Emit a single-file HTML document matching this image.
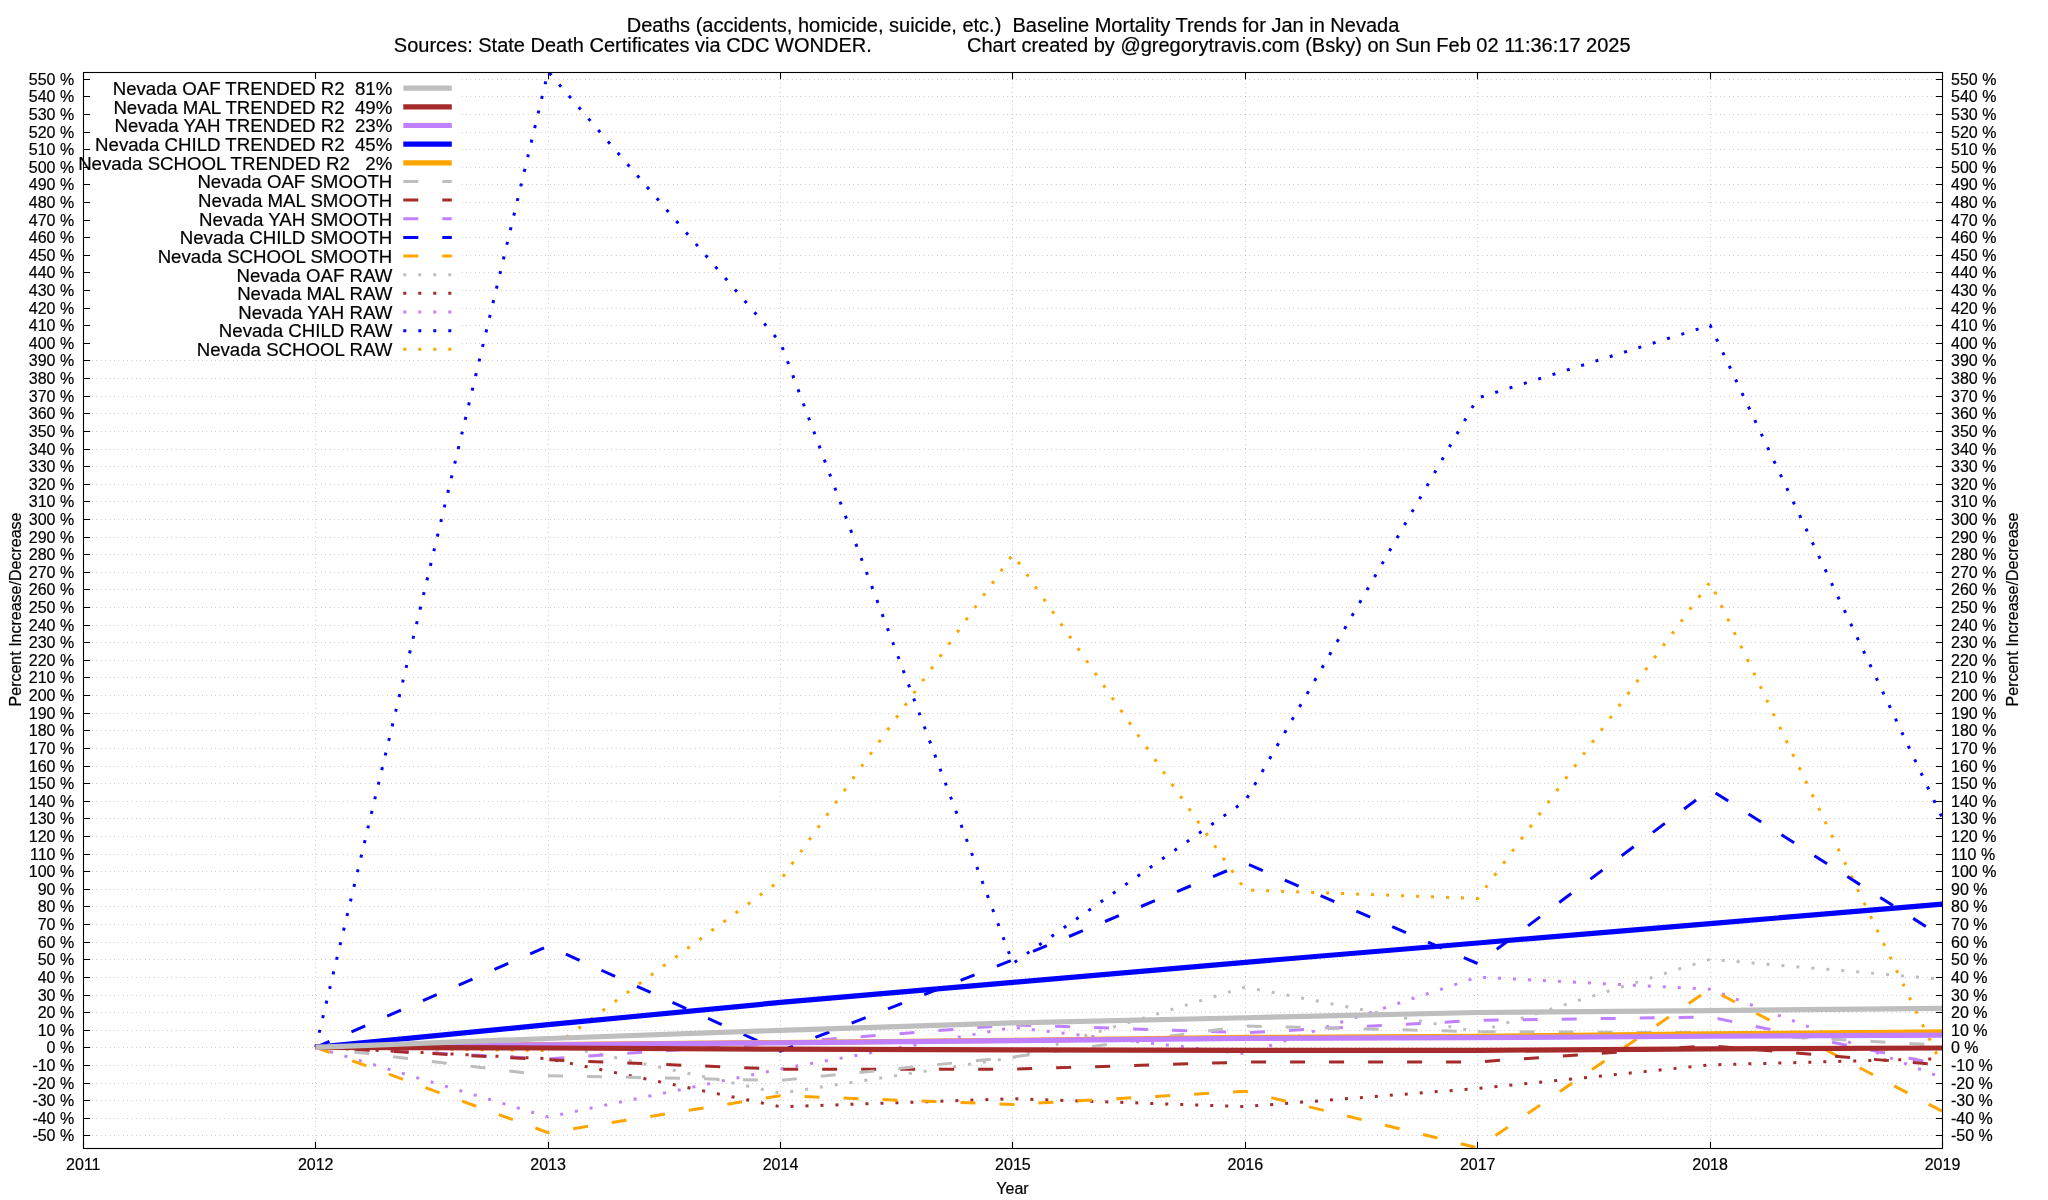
<!DOCTYPE html>
<html lang="en"><head><meta charset="utf-8"><title>Baseline Mortality Trends for Jan in Nevada</title>
<style>html,body{margin:0;padding:0;background:#fff;overflow:hidden}svg{display:block;will-change:transform}text{font-family:'Liberation Sans',Arial,Helvetica,sans-serif;fill:#000;stroke:#000;stroke-width:0.2px}</style></head><body>
<svg width="2048" height="1200" viewBox="0 0 2048 1200">
<rect width="2048" height="1200" fill="#fff"/>
<defs><clipPath id="pc"><rect x="83.5" y="72.5" width="1859.0" height="1076.0"/></clipPath></defs>
<path d="M83.5 1135.5H1942.5M83.5 1118.5H1942.5M83.5 1100.5H1942.5M83.5 1083.5H1942.5M83.5 1065.5H1942.5M83.5 1047.5H1942.5M83.5 1030.5H1942.5M83.5 1012.5H1942.5M83.5 995.5H1942.5M83.5 977.5H1942.5M83.5 959.5H1942.5M83.5 942.5H1942.5M83.5 924.5H1942.5M83.5 906.5H1942.5M83.5 889.5H1942.5M83.5 871.5H1942.5M83.5 854.5H1942.5M83.5 836.5H1942.5M83.5 818.5H1942.5M83.5 801.5H1942.5M83.5 783.5H1942.5M83.5 766.5H1942.5M83.5 748.5H1942.5M83.5 730.5H1942.5M83.5 713.5H1942.5M83.5 695.5H1942.5M83.5 677.5H1942.5M83.5 660.5H1942.5M83.5 642.5H1942.5M83.5 625.5H1942.5M83.5 607.5H1942.5M83.5 589.5H1942.5M83.5 572.5H1942.5M83.5 554.5H1942.5M83.5 537.5H1942.5M83.5 519.5H1942.5M83.5 501.5H1942.5M83.5 484.5H1942.5M83.5 466.5H1942.5M83.5 449.5H1942.5M83.5 431.5H1942.5M83.5 413.5H1942.5M83.5 396.5H1942.5M83.5 378.5H1942.5M83.5 360.5H1942.5M83.5 343.5H1942.5M83.5 325.5H1942.5M83.5 308.5H1942.5M83.5 290.5H1942.5M83.5 272.5H1942.5M83.5 255.5H1942.5M83.5 237.5H1942.5M83.5 220.5H1942.5M83.5 202.5H1942.5M83.5 184.5H1942.5M83.5 167.5H1942.5M83.5 149.5H1942.5M83.5 132.5H1942.5M83.5 114.5H1942.5M83.5 96.5H1942.5M83.5 79.5H1942.5M315.5 1148.5V72.5M548.5 1148.5V72.5M780.5 1148.5V72.5M1012.5 1148.5V72.5M1245.5 1148.5V72.5M1477.5 1148.5V72.5M1710.5 1148.5V72.5" fill="none" stroke="#303030" stroke-width="0.6" stroke-dasharray="0.4 4"/>
<path d="M83.5 1135.5h6.6M1942.5 1135.5h-6.6M83.5 1118.5h6.6M1942.5 1118.5h-6.6M83.5 1100.5h6.6M1942.5 1100.5h-6.6M83.5 1083.5h6.6M1942.5 1083.5h-6.6M83.5 1065.5h6.6M1942.5 1065.5h-6.6M83.5 1047.5h6.6M1942.5 1047.5h-6.6M83.5 1030.5h6.6M1942.5 1030.5h-6.6M83.5 1012.5h6.6M1942.5 1012.5h-6.6M83.5 995.5h6.6M1942.5 995.5h-6.6M83.5 977.5h6.6M1942.5 977.5h-6.6M83.5 959.5h6.6M1942.5 959.5h-6.6M83.5 942.5h6.6M1942.5 942.5h-6.6M83.5 924.5h6.6M1942.5 924.5h-6.6M83.5 906.5h6.6M1942.5 906.5h-6.6M83.5 889.5h6.6M1942.5 889.5h-6.6M83.5 871.5h6.6M1942.5 871.5h-6.6M83.5 854.5h6.6M1942.5 854.5h-6.6M83.5 836.5h6.6M1942.5 836.5h-6.6M83.5 818.5h6.6M1942.5 818.5h-6.6M83.5 801.5h6.6M1942.5 801.5h-6.6M83.5 783.5h6.6M1942.5 783.5h-6.6M83.5 766.5h6.6M1942.5 766.5h-6.6M83.5 748.5h6.6M1942.5 748.5h-6.6M83.5 730.5h6.6M1942.5 730.5h-6.6M83.5 713.5h6.6M1942.5 713.5h-6.6M83.5 695.5h6.6M1942.5 695.5h-6.6M83.5 677.5h6.6M1942.5 677.5h-6.6M83.5 660.5h6.6M1942.5 660.5h-6.6M83.5 642.5h6.6M1942.5 642.5h-6.6M83.5 625.5h6.6M1942.5 625.5h-6.6M83.5 607.5h6.6M1942.5 607.5h-6.6M83.5 589.5h6.6M1942.5 589.5h-6.6M83.5 572.5h6.6M1942.5 572.5h-6.6M83.5 554.5h6.6M1942.5 554.5h-6.6M83.5 537.5h6.6M1942.5 537.5h-6.6M83.5 519.5h6.6M1942.5 519.5h-6.6M83.5 501.5h6.6M1942.5 501.5h-6.6M83.5 484.5h6.6M1942.5 484.5h-6.6M83.5 466.5h6.6M1942.5 466.5h-6.6M83.5 449.5h6.6M1942.5 449.5h-6.6M83.5 431.5h6.6M1942.5 431.5h-6.6M83.5 413.5h6.6M1942.5 413.5h-6.6M83.5 396.5h6.6M1942.5 396.5h-6.6M83.5 378.5h6.6M1942.5 378.5h-6.6M83.5 360.5h6.6M1942.5 360.5h-6.6M83.5 343.5h6.6M1942.5 343.5h-6.6M83.5 325.5h6.6M1942.5 325.5h-6.6M83.5 308.5h6.6M1942.5 308.5h-6.6M83.5 290.5h6.6M1942.5 290.5h-6.6M83.5 272.5h6.6M1942.5 272.5h-6.6M83.5 255.5h6.6M1942.5 255.5h-6.6M83.5 237.5h6.6M1942.5 237.5h-6.6M83.5 220.5h6.6M1942.5 220.5h-6.6M83.5 202.5h6.6M1942.5 202.5h-6.6M83.5 184.5h6.6M1942.5 184.5h-6.6M83.5 167.5h6.6M1942.5 167.5h-6.6M83.5 149.5h6.6M1942.5 149.5h-6.6M83.5 132.5h6.6M1942.5 132.5h-6.6M83.5 114.5h6.6M1942.5 114.5h-6.6M83.5 96.5h6.6M1942.5 96.5h-6.6M83.5 79.5h6.6M1942.5 79.5h-6.6M83.5 1148.5v-6.8M83.5 72.5v6.8M315.5 1148.5v-6.8M315.5 72.5v6.8M548.5 1148.5v-6.8M548.5 72.5v6.8M780.5 1148.5v-6.8M780.5 72.5v6.8M1012.5 1148.5v-6.8M1012.5 72.5v6.8M1245.5 1148.5v-6.8M1245.5 72.5v6.8M1477.5 1148.5v-6.8M1477.5 72.5v6.8M1710.5 1148.5v-6.8M1710.5 72.5v6.8M1942.5 1148.5v-6.8M1942.5 72.5v6.8" fill="none" stroke="#000" stroke-width="1.1"/>
<g clip-path="url(#pc)" fill="none" stroke-linejoin="miter">
<polyline points="315.70,1047.32 548.10,1050.66 780.50,880.15 1012.90,554.34 1245.30,890.00 1477.70,898.45 1710.10,581.97 1942.50,1066.14" stroke="#ffa500" stroke-width="3" stroke-dasharray="3 12"/>
<polyline points="315.70,1047.32 548.10,71.58 780.50,342.57 1012.90,963.38 1245.30,800.96 1477.70,398.00 1710.10,325.32 1942.50,818.56" stroke="#0000ff" stroke-width="3" stroke-dasharray="3 12"/>
<polyline points="315.70,1047.32 548.10,1117.00 780.50,1068.96 1012.90,1027.43 1245.30,1053.83 1477.70,977.11 1710.10,989.25 1942.50,1077.76" stroke="#c080ff" stroke-width="3" stroke-dasharray="3 12"/>
<polyline points="315.70,1047.32 548.10,1058.75 780.50,1106.79 1012.90,1098.70 1245.30,1106.62 1477.70,1088.49 1710.10,1064.91 1942.50,1058.58" stroke="#a52a2a" stroke-width="3" stroke-dasharray="3 12"/>
<polyline points="315.70,1047.32 548.10,1043.09 780.50,1093.24 1012.90,1057.70 1245.30,987.14 1477.70,1032.01 1710.10,959.33 1942.50,979.22" stroke="#bebebe" stroke-width="3" stroke-dasharray="3 12"/>
<polyline points="315.70,1047.32 548.10,1132.66 780.50,1095.71 1012.90,1104.51 1245.30,1091.31 1477.70,1147.79 1710.10,988.90 1942.50,1111.37" stroke="#ffa500" stroke-width="3" stroke-dasharray="15 24"/>
<polyline points="315.70,1047.32 548.10,946.14 780.50,1051.19 1012.90,959.86 1245.30,863.08 1477.70,963.56 1710.10,789.52 1942.50,936.99" stroke="#0000ff" stroke-width="3" stroke-dasharray="15 24"/>
<polyline points="315.70,1047.32 548.10,1058.75 780.50,1042.92 1012.90,1024.79 1245.30,1032.71 1477.70,1020.39 1710.10,1017.05 1942.50,1064.91" stroke="#c080ff" stroke-width="3" stroke-dasharray="15 24"/>
<polyline points="315.70,1047.32 548.10,1059.81 780.50,1069.14 1012.90,1069.14 1245.30,1062.10 1477.70,1061.92 1710.10,1045.73 1942.50,1065.09" stroke="#a52a2a" stroke-width="3" stroke-dasharray="15 24"/>
<polyline points="315.70,1047.32 548.10,1075.65 780.50,1080.40 1012.90,1056.99 1245.30,1026.02 1477.70,1031.66 1710.10,1032.71 1942.50,1045.20" stroke="#bebebe" stroke-width="3" stroke-dasharray="15 24"/>
<polyline points="315.70,1047.32 548.10,1044.68 780.50,1042.48 1012.90,1040.28 1245.30,1037.46 1477.70,1036.41 1710.10,1033.94 1942.50,1031.74" stroke="#ffa500" stroke-width="5.2"/>
<polyline points="315.70,1047.32 548.10,1024.70 780.50,1002.44 1012.90,982.38 1245.30,962.32 1477.70,942.97 1710.10,923.61 1942.50,904.08" stroke="#0000ff" stroke-width="5.2"/>
<polyline points="315.70,1047.32 548.10,1044.76 780.50,1042.83 1012.90,1040.63 1245.30,1038.43 1477.70,1037.64 1710.10,1036.23 1942.50,1035.17" stroke="#c080ff" stroke-width="5.2"/>
<polyline points="315.70,1047.32 548.10,1048.02 780.50,1049.16 1012.90,1049.96 1245.30,1050.31 1477.70,1050.31 1710.10,1048.90 1942.50,1048.02" stroke="#a52a2a" stroke-width="5.2"/>
<polyline points="315.70,1047.32 548.10,1038.52 780.50,1030.34 1012.90,1022.86 1245.30,1017.75 1477.70,1012.48 1710.10,1010.54 1942.50,1008.43" stroke="#bebebe" stroke-width="5.2"/>
</g>
<rect x="91.8" y="78.9" width="369.2" height="279.1" fill="#fff"/>
<g font-size="18.67" text-anchor="end" style="white-space:pre">
<text x="392.3" y="95.00" xml:space="preserve">Nevada OAF TRENDED R2  81%</text>
<text x="392.3" y="113.65" xml:space="preserve">Nevada MAL TRENDED R2  49%</text>
<text x="392.3" y="132.30" xml:space="preserve">Nevada YAH TRENDED R2  23%</text>
<text x="392.3" y="150.95" xml:space="preserve">Nevada CHILD TRENDED R2  45%</text>
<text x="392.3" y="169.60" xml:space="preserve">Nevada SCHOOL TRENDED R2   2%</text>
<text x="392.3" y="188.25" xml:space="preserve">Nevada OAF SMOOTH</text>
<text x="392.3" y="206.90" xml:space="preserve">Nevada MAL SMOOTH</text>
<text x="392.3" y="225.55" xml:space="preserve">Nevada YAH SMOOTH</text>
<text x="392.3" y="244.20" xml:space="preserve">Nevada CHILD SMOOTH</text>
<text x="392.3" y="262.85" xml:space="preserve">Nevada SCHOOL SMOOTH</text>
<text x="392.3" y="281.50" xml:space="preserve">Nevada OAF RAW</text>
<text x="392.3" y="300.15" xml:space="preserve">Nevada MAL RAW</text>
<text x="392.3" y="318.80" xml:space="preserve">Nevada YAH RAW</text>
<text x="392.3" y="337.45" xml:space="preserve">Nevada CHILD RAW</text>
<text x="392.3" y="356.10" xml:space="preserve">Nevada SCHOOL RAW</text>
</g>
<g fill="none">
<path d="M403.3 88.20H451.8" stroke="#bebebe" stroke-width="5.2"/>
<path d="M403.3 106.85H451.8" stroke="#a52a2a" stroke-width="5.2"/>
<path d="M403.3 125.50H451.8" stroke="#c080ff" stroke-width="5.2"/>
<path d="M403.3 144.15H451.8" stroke="#0000ff" stroke-width="5.2"/>
<path d="M403.3 162.80H451.8" stroke="#ffa500" stroke-width="5.2"/>
<path d="M403.3 181.45H451.8" stroke="#bebebe" stroke-width="3" stroke-dasharray="15 24"/>
<path d="M403.3 200.10H451.8" stroke="#a52a2a" stroke-width="3" stroke-dasharray="15 24"/>
<path d="M403.3 218.75H451.8" stroke="#c080ff" stroke-width="3" stroke-dasharray="15 24"/>
<path d="M403.3 237.40H451.8" stroke="#0000ff" stroke-width="3" stroke-dasharray="15 24"/>
<path d="M403.3 256.05H451.8" stroke="#ffa500" stroke-width="3" stroke-dasharray="15 24"/>
<path d="M403.3 274.70H451.8" stroke="#bebebe" stroke-width="3" stroke-dasharray="3 12"/>
<path d="M403.3 293.35H451.8" stroke="#a52a2a" stroke-width="3" stroke-dasharray="3 12"/>
<path d="M403.3 312.00H451.8" stroke="#c080ff" stroke-width="3" stroke-dasharray="3 12"/>
<path d="M403.3 330.65H451.8" stroke="#0000ff" stroke-width="3" stroke-dasharray="3 12"/>
<path d="M403.3 349.30H451.8" stroke="#ffa500" stroke-width="3" stroke-dasharray="3 12"/>
</g>
<rect x="83.5" y="72.5" width="1859.0" height="1076.0" fill="none" stroke="#000" stroke-width="1.1"/>
<g font-size="16" text-anchor="end">
<text x="74.2" y="1141.25">-50 %</text>
<text x="74.2" y="1124.25">-40 %</text>
<text x="74.2" y="1106.25">-30 %</text>
<text x="74.2" y="1089.25">-20 %</text>
<text x="74.2" y="1071.25">-10 %</text>
<text x="74.2" y="1053.25">0 %</text>
<text x="74.2" y="1036.25">10 %</text>
<text x="74.2" y="1018.25">20 %</text>
<text x="74.2" y="1001.25">30 %</text>
<text x="74.2" y="983.25">40 %</text>
<text x="74.2" y="965.25">50 %</text>
<text x="74.2" y="948.25">60 %</text>
<text x="74.2" y="930.25">70 %</text>
<text x="74.2" y="912.25">80 %</text>
<text x="74.2" y="895.25">90 %</text>
<text x="74.2" y="877.25">100 %</text>
<text x="74.2" y="860.25">110 %</text>
<text x="74.2" y="842.25">120 %</text>
<text x="74.2" y="824.25">130 %</text>
<text x="74.2" y="807.25">140 %</text>
<text x="74.2" y="789.25">150 %</text>
<text x="74.2" y="772.25">160 %</text>
<text x="74.2" y="754.25">170 %</text>
<text x="74.2" y="736.25">180 %</text>
<text x="74.2" y="719.25">190 %</text>
<text x="74.2" y="701.25">200 %</text>
<text x="74.2" y="683.25">210 %</text>
<text x="74.2" y="666.25">220 %</text>
<text x="74.2" y="648.25">230 %</text>
<text x="74.2" y="631.25">240 %</text>
<text x="74.2" y="613.25">250 %</text>
<text x="74.2" y="595.25">260 %</text>
<text x="74.2" y="578.25">270 %</text>
<text x="74.2" y="560.25">280 %</text>
<text x="74.2" y="543.25">290 %</text>
<text x="74.2" y="525.25">300 %</text>
<text x="74.2" y="507.25">310 %</text>
<text x="74.2" y="490.25">320 %</text>
<text x="74.2" y="472.25">330 %</text>
<text x="74.2" y="455.25">340 %</text>
<text x="74.2" y="437.25">350 %</text>
<text x="74.2" y="419.25">360 %</text>
<text x="74.2" y="402.25">370 %</text>
<text x="74.2" y="384.25">380 %</text>
<text x="74.2" y="366.25">390 %</text>
<text x="74.2" y="349.25">400 %</text>
<text x="74.2" y="331.25">410 %</text>
<text x="74.2" y="314.25">420 %</text>
<text x="74.2" y="296.25">430 %</text>
<text x="74.2" y="278.25">440 %</text>
<text x="74.2" y="261.25">450 %</text>
<text x="74.2" y="243.25">460 %</text>
<text x="74.2" y="226.25">470 %</text>
<text x="74.2" y="208.25">480 %</text>
<text x="74.2" y="190.25">490 %</text>
<text x="74.2" y="173.25">500 %</text>
<text x="74.2" y="155.25">510 %</text>
<text x="74.2" y="138.25">520 %</text>
<text x="74.2" y="120.25">530 %</text>
<text x="74.2" y="102.25">540 %</text>
<text x="74.2" y="85.25">550 %</text>
</g><g font-size="16" text-anchor="start">
<text x="1951" y="1141.30">-50 %</text>
<text x="1951" y="1124.30">-40 %</text>
<text x="1951" y="1106.30">-30 %</text>
<text x="1951" y="1089.30">-20 %</text>
<text x="1951" y="1071.30">-10 %</text>
<text x="1951" y="1053.30">0 %</text>
<text x="1951" y="1036.30">10 %</text>
<text x="1951" y="1018.30">20 %</text>
<text x="1951" y="1001.30">30 %</text>
<text x="1951" y="983.30">40 %</text>
<text x="1951" y="965.30">50 %</text>
<text x="1951" y="948.30">60 %</text>
<text x="1951" y="930.30">70 %</text>
<text x="1951" y="912.30">80 %</text>
<text x="1951" y="895.30">90 %</text>
<text x="1951" y="877.30">100 %</text>
<text x="1951" y="860.30">110 %</text>
<text x="1951" y="842.30">120 %</text>
<text x="1951" y="824.30">130 %</text>
<text x="1951" y="807.30">140 %</text>
<text x="1951" y="789.30">150 %</text>
<text x="1951" y="772.30">160 %</text>
<text x="1951" y="754.30">170 %</text>
<text x="1951" y="736.30">180 %</text>
<text x="1951" y="719.30">190 %</text>
<text x="1951" y="701.30">200 %</text>
<text x="1951" y="683.30">210 %</text>
<text x="1951" y="666.30">220 %</text>
<text x="1951" y="648.30">230 %</text>
<text x="1951" y="631.30">240 %</text>
<text x="1951" y="613.30">250 %</text>
<text x="1951" y="595.30">260 %</text>
<text x="1951" y="578.30">270 %</text>
<text x="1951" y="560.30">280 %</text>
<text x="1951" y="543.30">290 %</text>
<text x="1951" y="525.30">300 %</text>
<text x="1951" y="507.30">310 %</text>
<text x="1951" y="490.30">320 %</text>
<text x="1951" y="472.30">330 %</text>
<text x="1951" y="455.30">340 %</text>
<text x="1951" y="437.30">350 %</text>
<text x="1951" y="419.30">360 %</text>
<text x="1951" y="402.30">370 %</text>
<text x="1951" y="384.30">380 %</text>
<text x="1951" y="366.30">390 %</text>
<text x="1951" y="349.30">400 %</text>
<text x="1951" y="331.30">410 %</text>
<text x="1951" y="314.30">420 %</text>
<text x="1951" y="296.30">430 %</text>
<text x="1951" y="278.30">440 %</text>
<text x="1951" y="261.30">450 %</text>
<text x="1951" y="243.30">460 %</text>
<text x="1951" y="226.30">470 %</text>
<text x="1951" y="208.30">480 %</text>
<text x="1951" y="190.30">490 %</text>
<text x="1951" y="173.30">500 %</text>
<text x="1951" y="155.30">510 %</text>
<text x="1951" y="138.30">520 %</text>
<text x="1951" y="120.30">530 %</text>
<text x="1951" y="102.30">540 %</text>
<text x="1951" y="85.30">550 %</text>
</g><g font-size="16" text-anchor="middle">
<text x="83.30" y="1170.1">2011</text>
<text x="315.70" y="1170.1">2012</text>
<text x="548.10" y="1170.1">2013</text>
<text x="780.50" y="1170.1">2014</text>
<text x="1012.90" y="1170.1">2015</text>
<text x="1245.30" y="1170.1">2016</text>
<text x="1477.70" y="1170.1">2017</text>
<text x="1710.10" y="1170.1">2018</text>
<text x="1942.50" y="1170.1">2019</text>
<text x="1012.5" y="1193.8">Year</text>
<text transform="translate(21.1 609.5) rotate(-90)">Percent Increase/Decrease</text>
<text transform="translate(2017.7 609.5) rotate(-90)">Percent Increase/Decrease</text>
</g>
<g font-size="20">
<text x="1013" y="31.6" text-anchor="middle" xml:space="preserve" style="white-space:pre">Deaths (accidents, homicide, suicide, etc.)  Baseline Mortality Trends for Jan in Nevada</text>
<text x="393.8" y="51.7" text-anchor="start">Sources: State Death Certificates via CDC WONDER.</text>
<text x="1630.6" y="51.7" text-anchor="end">Chart created by @gregorytravis.com (Bsky) on Sun Feb 02 11:36:17 2025</text>
</g>
</svg></body></html>
